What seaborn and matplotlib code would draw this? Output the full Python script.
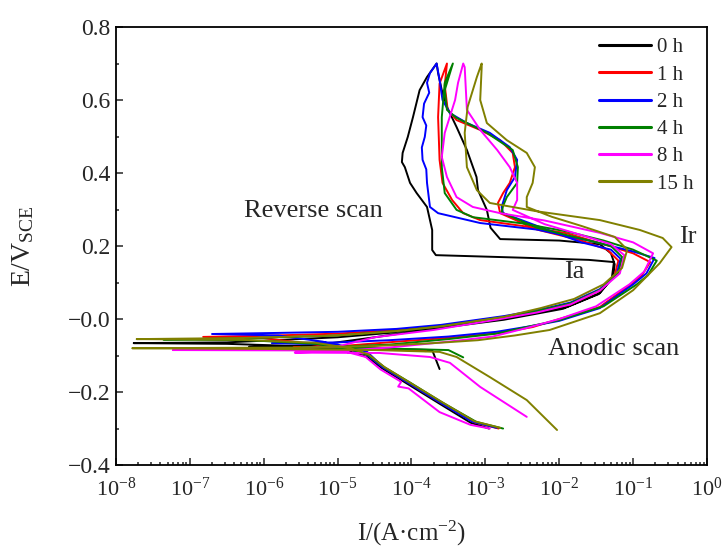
import matplotlib
matplotlib.use("Agg")
import matplotlib.pyplot as plt
import numpy as np
import pandas as pd
import seaborn as sns
from matplotlib.ticker import FixedFormatter, FixedLocator, LogLocator, MultipleLocator, NullFormatter

# === data: log10(I / A cm^-2) and E / V(SCE) ===
times = ["0 h", "1 h", "2 h", "4 h", "8 h", "15 h"]
colors = ["#000000", "#FF0000", "#0000FF", "#008000", "#FF00FF", "#808000"]

logi_0h = [-2.95, -3.20, -3.62, -4.06, -4.39, -4.60, -4.85, -5.40, -6.50, -7.76, -6.50, -5.00, -4.30,
           -3.71, -2.71, -1.90, -1.45, -1.27, -1.25, -1.30, -1.45, -2.00, -2.80, -2.93, -2.98, -3.10,
           -3.12, -3.25, -3.39, -3.52, -3.59, -3.64, -3.66,
           -3.79, -3.89, -3.98, -4.05, -4.12, -4.13, -4.09, -4.02, -3.93, -3.79, -3.72, -3.72, -3.67,
           -2.50, -1.60, -1.26, -1.29, -1.47, -1.95, -2.75, -3.75, -4.50, -5.30, -6.20, -4.60, -3.72, -3.62]
e_0h = [-0.300, -0.284, -0.232, -0.177, -0.136, -0.104, -0.088, -0.075, -0.068, -0.066, -0.064, -0.050,
        -0.038, -0.022, 0.003, 0.033, 0.071, 0.115, 0.150, 0.180, 0.205, 0.215, 0.219, 0.250, 0.299,
        0.353, 0.389, 0.463, 0.526, 0.581, 0.627, 0.674, 0.700,
        0.663, 0.627, 0.553, 0.499, 0.455, 0.430, 0.416, 0.373, 0.345, 0.307, 0.244, 0.189, 0.175,
        0.168, 0.162, 0.156, 0.110, 0.068, 0.028, -0.002, -0.028, -0.050, -0.072, -0.076, -0.080,
        -0.085, -0.137]

logi_1h = [-2.82, -3.15, -3.60, -4.04, -4.37, -4.58, -4.83, -5.30, -6.00, -6.82, -6.00, -5.00, -4.20,
           -3.60, -2.75, -2.30, -1.85, -1.45, -1.25, -1.20, -1.35, -1.70, -2.30, -2.80, -2.83, -2.76,
           -2.67, -2.60, -2.63, -2.80, -3.07, -3.39, -3.51, -3.55, -3.52,
           -3.62, -3.64, -3.62, -3.58, -3.45, -3.30, -3.07, -2.50, -1.90, -1.45, -1.00, -0.77, -0.88,
           -1.00, -1.45, -2.00, -2.36, -2.80, -3.40, -4.20, -5.00, -5.60, -4.40, -3.80]
e_1h = [-0.300, -0.283, -0.230, -0.175, -0.134, -0.100, -0.084, -0.070, -0.052, -0.049, -0.046, -0.040,
        -0.030, -0.018, 0.006, 0.020, 0.040, 0.078, 0.120, 0.160, 0.190, 0.215, 0.245, 0.290, 0.318,
        0.345, 0.373, 0.416, 0.455, 0.490, 0.518, 0.545, 0.573, 0.640, 0.700,
        0.645, 0.553, 0.436, 0.373, 0.326, 0.290, 0.271, 0.255, 0.235, 0.208, 0.180, 0.156, 0.120,
        0.100, 0.033, 0.000, -0.022, -0.038, -0.050, -0.062, -0.075, -0.078, -0.082, -0.088]

logi_2h = [-2.85, -3.18, -3.62, -4.06, -4.39, -4.60, -4.85, -5.20, -5.80, -6.70, -5.80, -5.00, -4.20,
           -3.60, -2.75, -2.30, -1.85, -1.45, -1.22, -1.17, -1.30, -1.70, -2.30, -2.76, -2.78, -2.71,
           -2.60, -2.57, -2.67, -2.94, -3.25, -3.48, -3.58, -3.62, -3.66,
           -3.75, -3.79, -3.76, -3.83, -3.85, -3.80, -3.82, -3.86, -3.85, -3.80, -3.79, -3.75, -3.64,
           -3.07, -2.30, -1.60, -1.00, -0.71, -0.82, -1.00, -1.45, -2.00, -2.40, -2.85, -3.50, -4.30,
           -5.00, -5.89, -5.00, -4.60, -4.39]
e_2h = [-0.298, -0.281, -0.228, -0.173, -0.132, -0.098, -0.082, -0.062, -0.045, -0.041, -0.038, -0.035,
        -0.027, -0.016, 0.008, 0.024, 0.045, 0.082, 0.125, 0.165, 0.190, 0.210, 0.255, 0.290, 0.307,
        0.353, 0.389, 0.436, 0.471, 0.510, 0.537, 0.564, 0.600, 0.655, 0.700,
        0.674, 0.647, 0.620, 0.590, 0.553, 0.530, 0.499, 0.470, 0.436, 0.410, 0.373, 0.307, 0.290,
        0.263, 0.245, 0.215, 0.185, 0.167, 0.125, 0.095, 0.030, -0.005, -0.020, -0.035, -0.048,
        -0.058, -0.064, -0.066, -0.070, -0.090, -0.130]

logi_4h = [-2.76, -3.12, -3.58, -4.02, -4.36, -4.58, -4.83, -5.30, -6.20, -7.36, -6.30, -5.00, -4.20,
           -3.60, -2.75, -2.30, -1.85, -1.45, -1.20, -1.15, -1.30, -1.70, -2.30, -2.78, -2.76, -2.71,
           -2.57, -2.56, -2.63, -2.98, -3.39, -3.52, -3.55, -3.44,
           -3.55, -3.59, -3.59, -3.55, -3.39, -3.17, -2.50, -1.90, -1.40, -1.00, -0.68, -0.80, -0.95,
           -1.40, -2.00, -2.40, -2.85, -3.50, -4.30, -5.00, -5.50, -4.50, -3.50, -3.30]
e_4h = [-0.300, -0.282, -0.229, -0.174, -0.133, -0.099, -0.083, -0.068, -0.058, -0.056, -0.053, -0.045,
        -0.033, -0.020, 0.005, 0.022, 0.043, 0.080, 0.125, 0.170, 0.200, 0.220, 0.250, 0.292, 0.310,
        0.334, 0.373, 0.416, 0.463, 0.510, 0.551, 0.573, 0.627, 0.700,
        0.647, 0.553, 0.416, 0.345, 0.299, 0.279, 0.262, 0.240, 0.215, 0.190, 0.160, 0.120, 0.095,
        0.035, -0.003, -0.020, -0.040, -0.055, -0.070, -0.076, -0.078, -0.080, -0.085, -0.105]

logi_8h = [-2.94, -3.20, -3.62, -4.04, -4.18, -4.14, -4.42, -4.62, -4.88, -5.50, -7.23, -6.00, -5.00,
           -4.50, -3.70, -2.80, -2.30, -1.85, -1.45, -1.18, -1.12, -1.30, -1.70, -2.20, -2.63, -2.57,
           -2.57, -2.67, -2.84, -3.07, -3.25, -3.28, -3.30,
           -3.37, -3.41, -3.55, -3.59, -3.52, -3.39, -3.17, -2.80, -2.20, -1.45, -1.00, -0.73, -0.85,
           -1.05, -1.50, -2.00, -2.45, -2.90, -3.50, -4.30, -5.00, -5.58, -4.43, -3.75, -3.48, -3.07,
           -2.44]
e_8h = [-0.300, -0.290, -0.255, -0.190, -0.185, -0.172, -0.138, -0.104, -0.090, -0.086, -0.085, -0.083,
        -0.075, -0.050, -0.030, 0.000, 0.018, 0.040, 0.078, 0.125, 0.175, 0.205, 0.230, 0.260, 0.299,
        0.326, 0.373, 0.416, 0.463, 0.518, 0.573, 0.690, 0.700,
        0.647, 0.600, 0.510, 0.444, 0.389, 0.334, 0.307, 0.290, 0.270, 0.236, 0.210, 0.180, 0.130,
        0.095, 0.035, 0.000, -0.025, -0.048, -0.062, -0.078, -0.088, -0.092, -0.093, -0.104, -0.120,
        -0.186, -0.268]

logi_15h = [-2.80, -3.15, -3.60, -4.04, -4.37, -4.58, -4.83, -5.30, -6.30, -7.72, -6.30, -5.00, -4.20,
            -3.60, -2.75, -2.25, -1.80, -1.40, -1.15, -1.08, -1.25, -1.70, -2.10, -2.44, -2.44, -2.36,
            -2.33, -2.44, -2.71, -2.98, -3.07, -3.05, -3.05,
            -3.115, -3.24, -3.28, -3.25, -3.115, -2.94, -2.30, -1.45, -0.91, -0.60, -0.48, -0.64,
            -1.00, -1.45, -2.13, -2.60, -3.10, -3.70, -4.50, -5.50, -7.78, -6.00, -4.50, -3.62, -3.39,
            -2.94, -2.44, -2.03]
e_15h = [-0.298, -0.280, -0.226, -0.172, -0.131, -0.097, -0.080, -0.065, -0.057, -0.055, -0.052, -0.045,
         -0.033, -0.020, 0.006, 0.030, 0.055, 0.095, 0.140, 0.190, 0.225, 0.255, 0.280, 0.307, 0.334,
         0.373, 0.416, 0.455, 0.490, 0.537, 0.600, 0.690, 0.700,
         0.663, 0.581, 0.510, 0.416, 0.353, 0.318, 0.295, 0.271, 0.244, 0.222, 0.197, 0.153, 0.079,
         0.016, -0.030, -0.045, -0.058, -0.066, -0.074, -0.078, -0.080, -0.082, -0.085, -0.090,
         -0.104, -0.159, -0.222, -0.304]

ytick_vals = [-0.4, -0.2, 0.0, 0.2, 0.4, 0.6, 0.8]
ytick_text = ["\u22120.4", "\u22120.2", "\u22120.0", "0.2", "0.4", "0.6", "0.8"]


def main() -> None:
    curves = [(logi_0h, e_0h), (logi_1h, e_1h), (logi_2h, e_2h),
              (logi_4h, e_4h), (logi_8h, e_8h), (logi_15h, e_15h)]
    frames = []
    for t, (li, e) in zip(times, curves):
        assert len(li) == len(e), t
        frames.append(pd.DataFrame({"I": 10.0 ** np.array(li), "E": e, "time": t}))
    df = pd.concat(frames, ignore_index=True)

    sns.set_style("ticks")
    plt.rcParams["font.family"] = ["Liberation Serif", "DejaVu Serif"]
    plt.rcParams["mathtext.fontset"] = "custom"
    plt.rcParams["mathtext.rm"] = "Liberation Serif"
    plt.rcParams["mathtext.it"] = "Liberation Serif:italic"

    fig = plt.figure(figsize=(7.23, 5.51), dpi=100)
    ax = fig.add_axes([0.1604, 0.156, 0.8175, 0.795])

    sns.lineplot(data=df, x="I", y="E", hue="time", hue_order=times, palette=colors,
                 sort=False, estimator=None, linewidth=1.4, ax=ax)

    ax.set_xscale("log")
    ax.set_xlim(1e-8, 1)
    ax.set_ylim(-0.4, 0.8)
    ax.xaxis.set_major_locator(LogLocator(base=10, numticks=20))
    ax.xaxis.set_minor_locator(LogLocator(base=10, subs=np.arange(2, 10), numticks=20))
    ax.xaxis.set_minor_formatter(NullFormatter())
    ax.yaxis.set_major_locator(FixedLocator(ytick_vals))
    ax.yaxis.set_major_formatter(FixedFormatter(ytick_text))
    ax.yaxis.set_minor_locator(MultipleLocator(0.1))

    ax.tick_params(which="both", direction="in", top=False, right=False, width=1.1)
    ax.tick_params(which="major", length=5)
    ax.tick_params(which="minor", length=2.5)
    ax.tick_params(axis="x", labelsize=16, pad=9)
    ax.tick_params(axis="y", labelsize=17, pad=4)
    for sp in ax.spines.values():
        sp.set_visible(True)
        sp.set_linewidth(1.3)
        sp.set_color("black")

    ax.set_xlabel("I/(A\u00b7cm$^{\\mathregular{-2}}$)", fontsize=18)
    ax.set_ylabel("E/V$_{\\mathregular{SCE}}$", fontsize=20)
    ax.xaxis.set_label_coords(0.5, -0.122)
    ax.yaxis.set_label_coords(-0.135, 0.5)

    ax.text(10 ** -5.33, 0.296, "Reverse scan", fontsize=19, ha="center", va="center")
    ax.text(10 ** -0.26, 0.225, "Ir", fontsize=19, ha="center", va="center")
    ax.text(10 ** -1.80, 0.128, "Ia", fontsize=19, ha="center", va="center")
    ax.text(10 ** -1.26, -0.082, "Anodic scan", fontsize=19, ha="center", va="center")

    handles, labels = ax.get_legend_handles_labels()
    leg = ax.legend(handles, labels, loc="upper right", bbox_to_anchor=(0.985, 0.985),
                    frameon=False, fontsize=15, handlelength=2.5, handletextpad=0.3,
                    labelspacing=0.37, borderaxespad=0.0, borderpad=0.2)
    for ln in leg.get_lines():
        ln.set_linewidth(2.2)

    fig.savefig("out.png", dpi=100)


if __name__ == "__main__":
    main()
